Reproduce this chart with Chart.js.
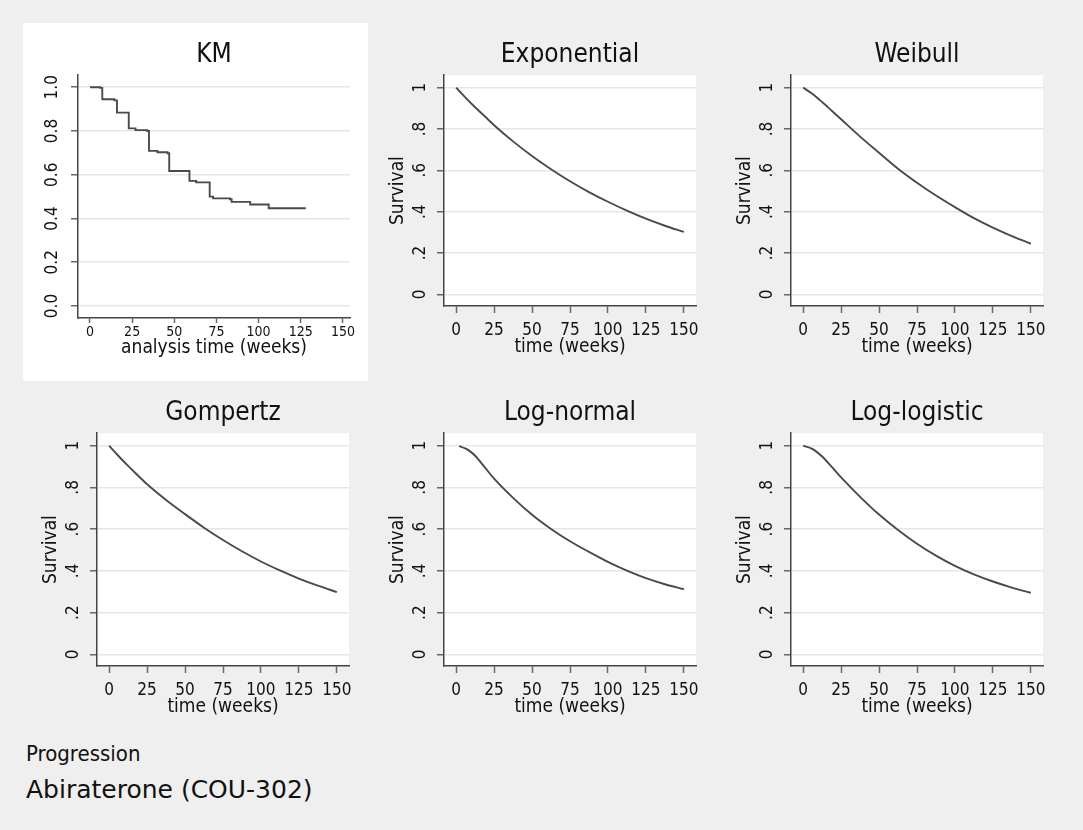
<!DOCTYPE html>
<html>
<head>
<meta charset="utf-8">
<script src="https://cdn.jsdelivr.net/npm/chart.js@4.4.1/dist/chart.umd.min.js"></script>
<style>
    html, body { margin: 0; padding: 0; }
    body {
        width: 1083px; height: 830px; background: #efefef;
        position: relative; overflow: hidden;
        font-family: "DejaVu Sans Condensed", "DejaVu Sans", sans-serif;
        color: #111;
    }
    canvas { position: absolute; }
    #km { background: #fff; }
    .note { position: absolute; left: 26px; line-height: 1; white-space: nowrap; }
    #note1 { top: 743px; font-size: 22px; }
    #note2 { top: 777px; font-size: 25px; font-family: "DejaVu Sans", sans-serif; }
</style>
</head>
<body>
<canvas id="km" width="345" height="358" style="left:23px;top:23px"></canvas>
<canvas id="expo" width="344" height="344" style="left:370px;top:23px"></canvas>
<canvas id="weib" width="344" height="344" style="left:717px;top:23px"></canvas>
<canvas id="gomp" width="344" height="346" style="left:23px;top:381px"></canvas>
<canvas id="lnorm" width="344" height="346" style="left:370px;top:381px"></canvas>
<canvas id="llog" width="344" height="346" style="left:717px;top:381px"></canvas>
<div class="note" id="note1">Progression</div>
<div class="note" id="note2">Abiraterone (COU-302)</div>

<script>
// tick values and labels
const xTicks = [0, 25, 50, 75, 100, 125, 150];
const yTicks = [0, 0.2, 0.4, 0.6, 0.8, 1];
const kmYLabels = ["0.0", "0.2", "0.4", "0.6", "0.8", "1.0"];
const fitYLabels = ["0", ".2", ".4", ".6", ".8", "1"];

// Kaplan-Meier steps (weeks, survival)
const kmTimes = [0, 6, 7.3, 14.5, 16, 23, 27, 34, 35, 40, 46, 47, 59, 63, 71, 73, 83, 84, 95, 106, 128];
const kmSurv = [1.0, 0.997, 0.945, 0.94, 0.884, 0.812, 0.804, 0.80, 0.709, 0.703, 0.698, 0.617, 0.572, 0.565, 0.50, 0.492, 0.488, 0.476, 0.464, 0.447, 0.447];

// fitted curves read at these weeks
const fitTimes = [0, 6, 12.5, 19, 25, 37.5, 50, 62.5, 75, 87.5, 100, 112.5, 125, 137.5, 150];
const expSurv = [1.0, 0.953, 0.905, 0.86, 0.818, 0.74, 0.669, 0.605, 0.547, 0.495, 0.448, 0.405, 0.366, 0.332, 0.302];
const weibSurv = [1.0, 0.97, 0.93, 0.887, 0.847, 0.763, 0.685, 0.608, 0.54, 0.478, 0.422, 0.369, 0.323, 0.282, 0.245];
const gompSurv = [1.0, 0.952, 0.903, 0.857, 0.815, 0.74, 0.672, 0.607, 0.548, 0.494, 0.445, 0.402, 0.363, 0.329, 0.298];
const lnormTimes = [2, 6, 9, 12.5, 19, 25, 37.5, 50, 62.5, 75, 87.5, 100, 112.5, 125, 137.5, 150];
const lnormSurv = [0.998, 0.987, 0.974, 0.952, 0.895, 0.842, 0.75, 0.669, 0.601, 0.542, 0.491, 0.443, 0.401, 0.365, 0.336, 0.312];
const llogSurv = [1.0, 0.985, 0.948, 0.897, 0.848, 0.755, 0.67, 0.596, 0.53, 0.473, 0.424, 0.383, 0.349, 0.32, 0.295];

const FONT = '"DejaVu Sans Condensed", "DejaVu Sans", sans-serif';
Chart.defaults.font.family = FONT;
Chart.defaults.color = "#111";

const plotBg = {
    id: "plotBg",
    beforeDraw(chart, args, opts) {
        if (!opts.color) return;
        const a = chart.chartArea;
        chart.ctx.save();
        chart.ctx.fillStyle = opts.color;
        chart.ctx.fillRect(a.left, a.top, a.right - a.left, a.bottom - a.top);
        chart.ctx.restore();
    }
};

function toPoints(xs, ys) {
    return xs.map((x, i) => ({ x: x, y: ys[i] }));
}

function makePanel(id, cfg) {
    const km = cfg.km;
    new Chart(document.getElementById(id), {
        type: "line",
        data: {
            datasets: [{
                data: cfg.points,
                borderColor: "#4a4a4a",
                borderWidth: 1.9,
                pointRadius: 0,
                fill: false,
                stepped: km ? true : false,
                cubicInterpolationMode: km ? "default" : "monotone"
            }]
        },
        options: {
            responsive: false,
            animation: false,
            layout: { padding: { left: 0, right: 18, top: 0, bottom: km ? 21.6 : 8.6 } },
            plugins: {
                legend: { display: false },
                tooltip: { enabled: false },
                plotBg: { color: km ? null : "#ffffff" },
                title: {
                    display: true,
                    text: cfg.title,
                    fullSize: false,
                    font: { size: 26, weight: "normal" },
                    color: "#111",
                    padding: { top: 17, bottom: 4 }
                }
            },
            scales: {
                x: {
                    type: "linear",
                    min: km ? -7.1 : -8,
                    max: km ? 154.2 : 158,
                    afterBuildTicks: (s) => { s.ticks = xTicks.map((v) => ({ value: v })); },
                    afterFit: (s) => { s.height = km ? 41.4 : 52.4; },
                    border: { display: true, color: "#444", width: 1.5 },
                    grid: { drawOnChartArea: false, drawTicks: true, tickLength: km ? 5 : 7, tickColor: "#666", tickWidth: 1.5 },
                    ticks: { font: { size: km ? 14 : 17 }, color: "#111", padding: km ? 1 : 7, maxRotation: 0, autoSkip: false },
                    title: {
                        display: true,
                        text: km ? "analysis time (weeks)" : "time (weeks)",
                        font: { size: 19 },
                        color: "#111",
                        padding: { top: 0, bottom: 0 }
                    }
                },
                y: {
                    min: km ? -0.055 : -0.056,
                    max: km ? 1.055 : 1.06,
                    afterBuildTicks: (s) => { s.ticks = yTicks.map((v) => ({ value: v })); },
                    afterFit: (s) => { s.width = km ? 55 : 74; },
                    border: { display: true, color: "#444", width: 1.5 },
                    grid: { color: "#e6e6e6", lineWidth: 1.5, drawTicks: true, tickLength: 7, tickColor: "#666", tickWidth: 1.5 },
                    ticks: {
                        font: { size: 17 },
                        color: "#111",
                        minRotation: 90,
                        maxRotation: 90,
                        crossAlign: "center",
                        padding: km ? 6 : 9,
                        callback: (v, i) => (km ? kmYLabels : fitYLabels)[i]
                    },
                    title: {
                        display: !km,
                        text: "Survival",
                        font: { size: 19 },
                        color: "#111",
                        padding: { top: 17, bottom: 0 }
                    }
                }
            }
        },
        plugins: [plotBg]
    });
}

makePanel("km", { title: "KM", km: true, points: toPoints(kmTimes, kmSurv) });
makePanel("expo", { title: "Exponential", points: toPoints(fitTimes, expSurv) });
makePanel("weib", { title: "Weibull", points: toPoints(fitTimes, weibSurv) });
makePanel("gomp", { title: "Gompertz", points: toPoints(fitTimes, gompSurv) });
makePanel("lnorm", { title: "Log-normal", points: toPoints(lnormTimes, lnormSurv) });
makePanel("llog", { title: "Log-logistic", points: toPoints(fitTimes, llogSurv) });
</script>
</body>
</html>
